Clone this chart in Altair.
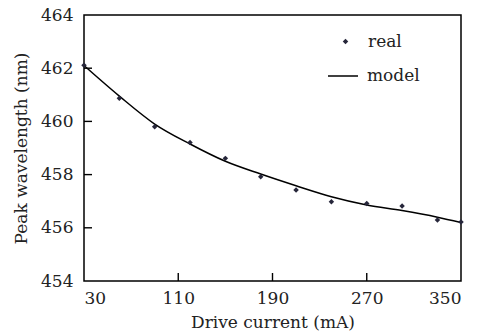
import altair as alt
import pandas as pd

# measured points
current_real = [30, 60, 90, 120, 150, 180, 210, 240, 270, 300, 330, 350]
wavelength_real = [462.11, 460.87, 459.80, 459.21, 458.61, 457.92, 457.42, 456.98, 456.91, 456.82, 456.29, 456.22]

# model curve
current_model = [30, 60, 90, 120, 150, 180, 210, 240, 270, 300, 330, 350]
wavelength_model = [462.10, 460.95, 459.90, 459.15, 458.50, 458.02, 457.58, 457.17, 456.86, 456.65, 456.40, 456.20]

x_ticks = [30, 110, 190, 270, 350]
y_ticks = [454, 456, 458, 460, 462, 464]
x_inner_ticks = [110, 190, 270]
y_inner_ticks = [456, 458, 460, 462]

W, H = 377, 266
FONT = "DejaVu Serif"
TXT = "#222222"
PT = "#26263a"

real_df = pd.DataFrame({"x": current_real, "y": wavelength_real, "series": ["real"] * len(current_real)})
model_df = pd.DataFrame({"x": current_model, "y": wavelength_model, "series": ["model"] * len(current_model)})
xt_df = pd.DataFrame({"x": x_inner_ticks})
yt_df = pd.DataFrame({"y": y_inner_ticks})

xscale = alt.Scale(domain=[30, 350], nice=False, zero=False)
yscale = alt.Scale(domain=[454, 464], nice=False, zero=False)

xaxis = alt.Axis(values=x_ticks, title="Drive current (mA)", grid=False, ticks=False, domain=False,
                 labelPadding=9, titlePadding=8, format="d")
yaxis = alt.Axis(values=y_ticks, title="Peak wavelength (nm)", grid=False, ticks=False, domain=False,
                 labelPadding=11, titlePadding=10, format="d")

line = alt.Chart(model_df).mark_line(strokeWidth=1.5, interpolate="monotone").encode(
    x=alt.X("x:Q", scale=xscale, axis=xaxis),
    y=alt.Y("y:Q", scale=yscale, axis=yaxis),
    color=alt.Color("series:N", scale=alt.Scale(domain=["model"], range=["black"]),
                    legend=alt.Legend(title=None, orient="none", legendX=243, legendY=45,
                                      symbolType="stroke", symbolSize=900, symbolStrokeWidth=1.5,
                                      labelOffset=8, labelFontSize=17, labelFont=FONT, labelColor=TXT)),
)

points = alt.Chart(real_df).mark_point(filled=True, color=PT, size=30, opacity=1).encode(
    x=alt.X("x:Q", scale=xscale),
    y=alt.Y("y:Q", scale=yscale),
    shape=alt.Shape("series:N", scale=alt.Scale(domain=["real"], range=["diamond"]),
                    legend=alt.Legend(title=None, orient="none", legendX=253, legendY=18,
                                      symbolSize=30, symbolFillColor=PT,
                                      labelOffset=14, labelFontSize=17, labelFont=FONT, labelColor=TXT)),
)

xt = alt.Chart(xt_df).mark_rule(color="black", strokeWidth=1.4).encode(
    x=alt.X("x:Q", scale=xscale), y=alt.value(H), y2=alt.value(H - 8)
)
yt = alt.Chart(yt_df).mark_rule(color="black", strokeWidth=1.4).encode(
    y=alt.Y("y:Q", scale=yscale), x=alt.value(0), x2=alt.value(8)
)

chart = alt.layer(line, points, xt, yt).properties(
    width=W, height=H,
    background="white",
    autosize=alt.AutoSizeParams(type="none"),
    padding={"left": 84, "top": 15, "right": 21, "bottom": 55},
).configure_view(stroke="black", strokeWidth=1.5).configure_axis(
    labelFont=FONT, titleFont=FONT, labelFontSize=17, titleFontSize=17,
    labelColor=TXT, titleColor=TXT, titleFontWeight="normal",
)

chart.save("out.html", embed_options={"renderer": "svg", "actions": False})
